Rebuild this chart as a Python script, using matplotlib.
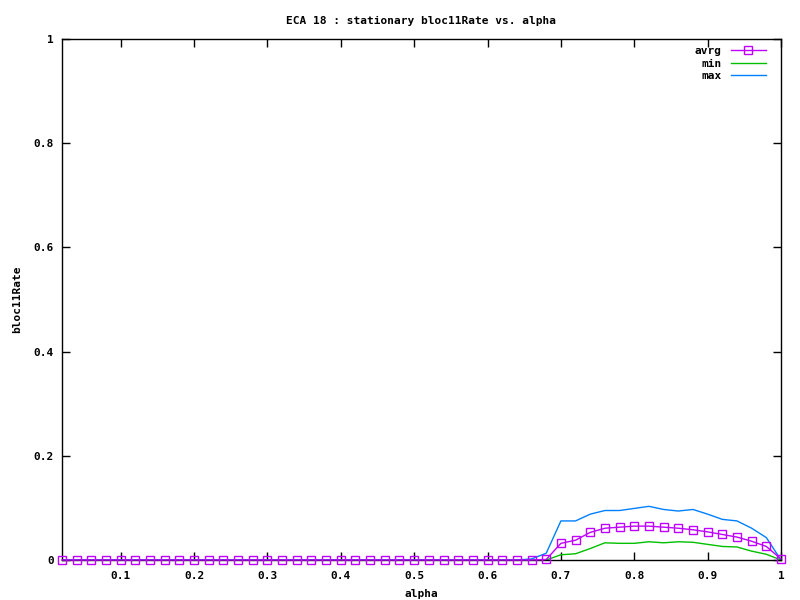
import matplotlib.pyplot as plt
from matplotlib.lines import Line2D

plt.rcParams["font.family"] = ["DejaVu Sans Mono"]
plt.rcParams["font.weight"] = "bold"
plt.rcParams["font.size"] = 8

# alpha = 0.02, 0.04, ..., 1.00
alpha = [round(0.02 * i, 2) for i in range(1, 51)]

# 0.02 .. 0.66 are all zero (33 points), then 0.68 .. 1.00
avrg = [0.0] * 33 + [0.001, 0.032, 0.038, 0.053, 0.061, 0.063, 0.065, 0.065,
                     0.063, 0.061, 0.058, 0.054, 0.049, 0.044, 0.036, 0.026, 0.002]
vmin = [0.0] * 33 + [0.0, 0.010, 0.012, 0.022, 0.033, 0.032, 0.032, 0.035,
                     0.033, 0.035, 0.034, 0.030, 0.026, 0.025, 0.017, 0.011, 0.0]
vmax = [0.0] * 32 + [0.002, 0.013, 0.075, 0.075, 0.088, 0.095, 0.095, 0.099, 0.103,
                     0.097, 0.094, 0.097, 0.088, 0.078, 0.075, 0.061, 0.043, 0.0]

xticks = [0.1, 0.2, 0.3, 0.4, 0.5, 0.6, 0.7, 0.8, 0.9, 1.0]
xticklabels = ["0.1", "0.2", "0.3", "0.4", "0.5", "0.6", "0.7", "0.8", "0.9", "1"]
yticks = [0, 0.2, 0.4, 0.6, 0.8, 1.0]
yticklabels = ["0", "0.2", "0.4", "0.6", "0.8", "1"]

PURPLE = "#c000ff"
GREEN = "#00c000"
BLUE = "#0080ff"

fig = plt.figure(figsize=(8, 6), dpi=100)
ax = fig.add_axes([62 / 800, 40 / 600, 719 / 800, 521 / 600])

ax.plot(alpha, vmin, color=GREEN, lw=1, label="min")
ax.plot(alpha, vmax, color=BLUE, lw=1, label="max")
ax.plot(alpha, avrg, color=PURPLE, lw=1, marker="s", ms=5.5, mfc="none",
        mec=PURPLE, mew=1, label="avrg", clip_on=False, zorder=3)

ax.set_xlim(0.02, 1.0)
ax.set_ylim(0, 1)
ax.set_xticks(xticks)
ax.set_xticklabels(xticklabels)
ax.set_yticks(yticks)
ax.set_yticklabels(yticklabels)
ax.tick_params(direction="in", length=6, width=1, top=True, right=True,
               labelsize=8)
ax.tick_params(axis="y", pad=6)
ax.tick_params(axis="x", pad=8)
for s in ax.spines.values():
    s.set_linewidth(1)

ax.set_title("ECA 18 : stationary bloc11Rate vs. alpha", fontsize=8,
             fontweight="bold", pad=11)
ax.set_xlabel("alpha", fontsize=8, fontweight="bold", labelpad=6)
ax.set_ylabel("bloc11Rate", fontsize=8, fontweight="bold", labelpad=8)

handles = [Line2D([], [], color=PURPLE, lw=1, marker="s", ms=5.5, mfc="none", mec=PURPLE),
           Line2D([], [], color=GREEN, lw=1),
           Line2D([], [], color=BLUE, lw=1)]
leg = ax.legend(handles, ["avrg", "min", "max"], loc="upper right", frameon=False,
                markerfirst=False, handlelength=3.2, handletextpad=0.8,
                labelspacing=0.25, borderaxespad=0,
                bbox_to_anchor=(0.9857, 0.9956), fontsize=8)

fig.savefig("out.png", dpi=100)
